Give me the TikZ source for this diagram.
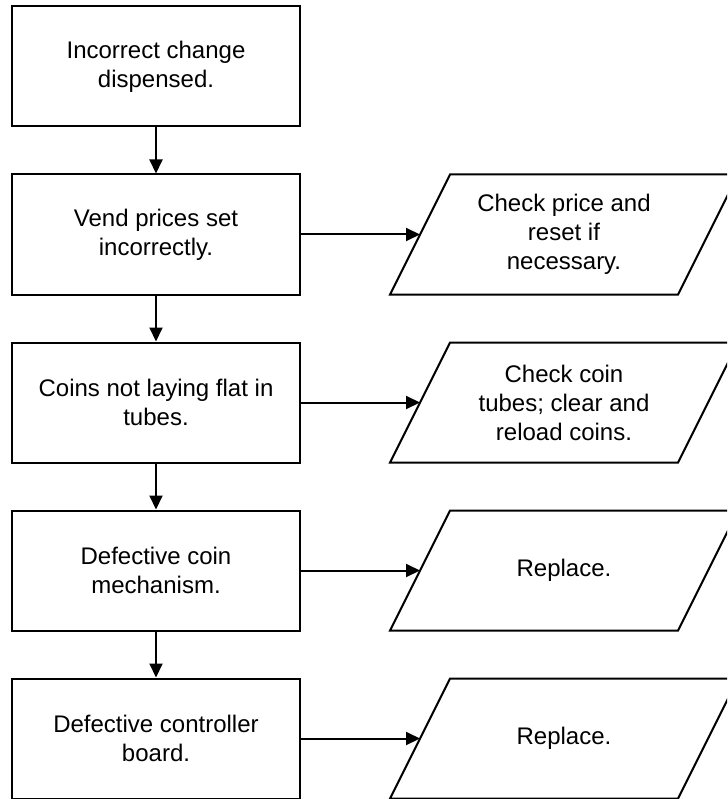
\documentclass[tikz,border=0pt]{standalone}
\usepackage{fontspec}
\setmainfont{Liberation Sans}
\usetikzlibrary{arrows.meta}
\begin{document}
\begin{tikzpicture}[x=1pt,y=-1pt,
  lbox/.style={draw, line width=2pt, minimum width=288pt, minimum height=120pt, inner sep=0pt, align=center, font=\fontsize{24}{29}\selectfont},
  ptext/.style={align=center, inner sep=0pt, font=\fontsize{24}{29}\selectfont},
  para/.style={draw, line width=2pt, line join=miter},
  conn/.style={line width=2pt, -{Triangle[length=14pt,width=13pt]}}]
\useasboundingbox (0,0) rectangle (727,799);
\clip (0,0) rectangle (727,799);
\node[lbox] (b1) at (156,66.5) {Incorrect change\\dispensed.};
\node[lbox] (b2) at (156,234.5) {Vend prices set\\incorrectly.};
\node[lbox] (b3) at (156,402.5) {Coins not laying flat in\\tubes.};
\node[lbox] (b4) at (156,570.5) {Defective coin\\mechanism.};
\node[lbox] (b5) at (156,738.5) {Defective controller\\board.};
\foreach \k/\t in {2/{Check price and\\reset if\\necessary.}, 3/{Check coin\\tubes; clear and\\reload coins.}, 4/{Replace.}, 5/{Replace.}}{
  \pgfmathsetmacro{\top}{6.5+168*(\k-1)}
  \pgfmathsetmacro{\bot}{\top+120}
  \pgfmathsetmacro{\mid}{\top+60}
  \draw[para] (390,\bot) -- (450,\top) -- (738,\top) -- (678,\bot) -- cycle;
  \coordinate (p\k w) at (420,\mid);
  \node[ptext] (p\k) at (564,\mid) {\t};
}
\draw[conn] (b1.south) -- (b2.north);
\draw[conn] (b2.south) -- (b3.north);
\draw[conn] (b3.south) -- (b4.north);
\draw[conn] (b4.south) -- (b5.north);
\draw[conn] (b2.east) -- (p2w);
\draw[conn] (b3.east) -- (p3w);
\draw[conn] (b4.east) -- (p4w);
\draw[conn] (b5.east) -- (p5w);
\end{tikzpicture}
\end{document}
